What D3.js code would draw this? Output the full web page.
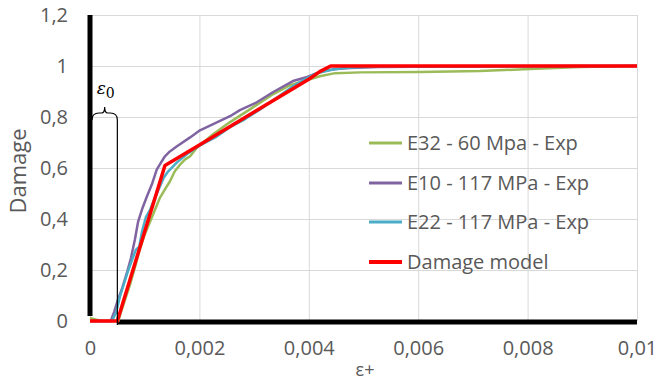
<!DOCTYPE html>
<html>
<head>
<meta charset="utf-8">
<script src="https://cdn.jsdelivr.net/npm/d3@7"></script>
<style>
  body { margin: 0; background: #fff; }
  text { font-family: "Open Sans", sans-serif; fill: #595959; }
</style>
</head>
<body>
<svg id="chart" width="668" height="382"></svg>
<script>
// tick values
const xTicks = [0, 0.002, 0.004, 0.006, 0.008, 0.01];
const yTicks = [0, 0.2, 0.4, 0.6, 0.8, 1, 1.2];
const eps0 = 0.0005;

// E32 - 60 Mpa - Exp
const e32Strain = [0, 0.0002, 0.00052, 0.00055, 0.00064, 0.00073, 0.00082, 0.00091, 0.001, 0.0011, 0.00119, 0.00128, 0.00137, 0.00146, 0.00155, 0.00165, 0.00174, 0.00183, 0.00196, 0.00225, 0.00256, 0.00293, 0.00335, 0.00366, 0.00397, 0.0042, 0.00448, 0.00494, 0.00603, 0.00713, 0.00804, 0.00896, 0.01];
const e32Damage = [0.012, 0, 0, 0.024, 0.083, 0.142, 0.209, 0.28, 0.339, 0.39, 0.437, 0.484, 0.516, 0.547, 0.587, 0.614, 0.634, 0.646, 0.681, 0.732, 0.78, 0.831, 0.89, 0.925, 0.945, 0.96, 0.972, 0.975, 0.976, 0.98, 0.988, 0.996, 1];

// E10 - 117 MPa - Exp
const e10Strain = [0, 0.00038, 0.00044, 0.00051, 0.00059, 0.00068, 0.00075, 0.00082, 0.00088, 0.00095, 0.00104, 0.00113, 0.00122, 0.0013, 0.00137, 0.00146, 0.00159, 0.00183, 0.00201, 0.00229, 0.00256, 0.00274, 0.00302, 0.00335, 0.00371, 0.00397, 0.0042, 0.00448, 0.00475, 0.00525, 0.0066, 0.01];
const e10Damage = [0, 0, 0.035, 0.083, 0.13, 0.193, 0.248, 0.319, 0.39, 0.437, 0.488, 0.535, 0.594, 0.622, 0.646, 0.665, 0.685, 0.72, 0.748, 0.776, 0.803, 0.827, 0.854, 0.898, 0.941, 0.957, 0.976, 0.988, 0.992, 0.996, 0.998, 1];

// E22 - 117 MPa - Exp
const e22Strain = [0, 0.0004, 0.00048, 0.00055, 0.00062, 0.00069, 0.00077, 0.00084, 0.0009, 0.00095, 0.00102, 0.0011, 0.00119, 0.00128, 0.00135, 0.00143, 0.00159, 0.00177, 0.00201, 0.00229, 0.00256, 0.00283, 0.00311, 0.00338, 0.00366, 0.00384, 0.00411, 0.00439, 0.00466, 0.00494, 0.00567, 0.01];
const e22Damage = [0, 0, 0.035, 0.098, 0.146, 0.193, 0.24, 0.28, 0.291, 0.35, 0.406, 0.437, 0.484, 0.528, 0.563, 0.587, 0.622, 0.654, 0.689, 0.72, 0.76, 0.791, 0.83, 0.87, 0.913, 0.937, 0.969, 0.984, 0.992, 0.996, 0.998, 1];

// Damage model
const modelStrain = [0, 0.0005, 0.00137, 0.002, 0.003, 0.004, 0.0042, 0.0044, 0.01];
const modelDamage = [0, 0, 0.61, 0.69, 0.82, 0.948, 0.978, 1, 1];

const series = [
  {name: "E32 - 60 Mpa - Exp", x: e32Strain, y: e32Damage, color: "#9bbb59", w: 2.5},
  {name: "E10 - 117 MPa - Exp", x: e10Strain, y: e10Damage, color: "#8064a2", w: 2.5},
  {name: "E22 - 117 MPa - Exp", x: e22Strain, y: e22Damage, color: "#4bacc6", w: 2.5},
  {name: "Damage model", x: modelStrain, y: modelDamage, color: "#ff0000", w: 3.5}
];

const svg = d3.select("#chart");
const x = d3.scaleLinear().domain([0, 0.01]).range([90, 637]);
const y = d3.scaleLinear().domain([0, 1.2]).range([321, 15]);
const comma = d => String(d).replace(".", ",");

// gridlines
svg.append("g").attr("transform", "translate(0,321)")
  .call(d3.axisBottom(x).tickValues(xTicks).tickSize(-306).tickFormat(""))
  .call(g => g.select(".domain").remove())
  .call(g => g.selectAll("line").attr("stroke", "#d9d9d9"));
svg.append("g").attr("transform", "translate(90,0)")
  .call(d3.axisLeft(y).tickValues(yTicks).tickSize(-547).tickFormat(""))
  .call(g => g.select(".domain").remove())
  .call(g => g.selectAll("line").attr("stroke", "#d9d9d9"));

// tick labels
svg.append("g").attr("transform", "translate(0,321)")
  .call(d3.axisBottom(x).tickValues(xTicks).tickSize(0).tickPadding(20).tickFormat(comma))
  .call(g => g.select(".domain").remove())
  .call(g => g.selectAll("text").style("font-size", "20px").attr("fill", "#595959").style("font-family", "Open Sans"));
svg.append("g").attr("transform", "translate(90,0)")
  .call(d3.axisLeft(y).tickValues(yTicks).tickSize(0).tickPadding(22).tickFormat(comma))
  .call(g => g.select(".domain").remove())
  .call(g => g.selectAll("text").style("font-size", "20px").attr("fill", "#595959").style("font-family", "Open Sans"));

// thick black axis lines
svg.append("line").attr("x1", x(0)).attr("x2", x(0)).attr("y1", y(1.2)).attr("y2", y(0.02))
  .attr("stroke", "#000").attr("stroke-width", 5);
svg.append("line").attr("x1", x(eps0)).attr("x2", x(0.01)).attr("y1", y(0) + 1).attr("y2", y(0) + 1)
  .attr("stroke", "#000").attr("stroke-width", 5);

// series
const line = d3.line().x(d => x(d[0])).y(d => y(d[1]));
series.forEach(s => {
  svg.append("path").datum(s.x.map((v, i) => [v, s.y[i]]))
    .attr("fill", "none").attr("stroke", s.color).attr("stroke-width", s.w)
    .attr("stroke-linejoin", "round").attr("d", line);
});

// epsilon_0 brace
const bl = x(0) + 2, br = x(eps0), bm = (bl + br) / 2, bt = 107, bb = 120;
svg.append("path")
  .attr("d", `M${bl},${bb} Q${bl},${bt + 6} ${bl + 7},${bt + 6} L${bm - 3},${bt + 6} Q${bm},${bt + 6} ${bm},${bt} Q${bm},${bt + 6} ${bm + 3},${bt + 6} L${br - 7},${bt + 6} Q${br},${bt + 6} ${br},${bb}`)
  .attr("fill", "none").attr("stroke", "#000").attr("stroke-width", 1.2);
svg.append("line").attr("x1", br).attr("x2", br).attr("y1", bb).attr("y2", y(0) + 4)
  .attr("stroke", "#000").attr("stroke-width", 1.2);
const epsLabel = svg.append("text").attr("x", bm - 8).attr("y", 94)
  .style("font-family", "DejaVu Serif").style("font-size", "17px").attr("fill", "#000");
epsLabel.append("tspan").style("font-style", "italic").attr("fill", "#000").text("ε");
epsLabel.append("tspan").attr("dy", 4).style("font-size", "14px").attr("fill", "#000").text("0");

// axis titles
svg.append("text").attr("x", 365).attr("y", 376).attr("text-anchor", "middle")
  .style("font-size", "18px").text("ε+");
svg.append("text").attr("transform", "translate(26,171) rotate(-90)").attr("text-anchor", "middle")
  .style("font-size", "22px").text("Damage");

// legend
const legendY = [143, 183, 222, 262];
series.forEach((s, i) => {
  const g = svg.append("g").attr("transform", `translate(369,${legendY[i]})`);
  g.append("line").attr("x1", 0).attr("x2", 33).attr("stroke", s.color).attr("stroke-width", s.w + 0.5);
  g.append("text").attr("x", 38).attr("dy", "0.35em").style("font-size", "20px").text(s.name);
});
</script>
</body>
</html>
